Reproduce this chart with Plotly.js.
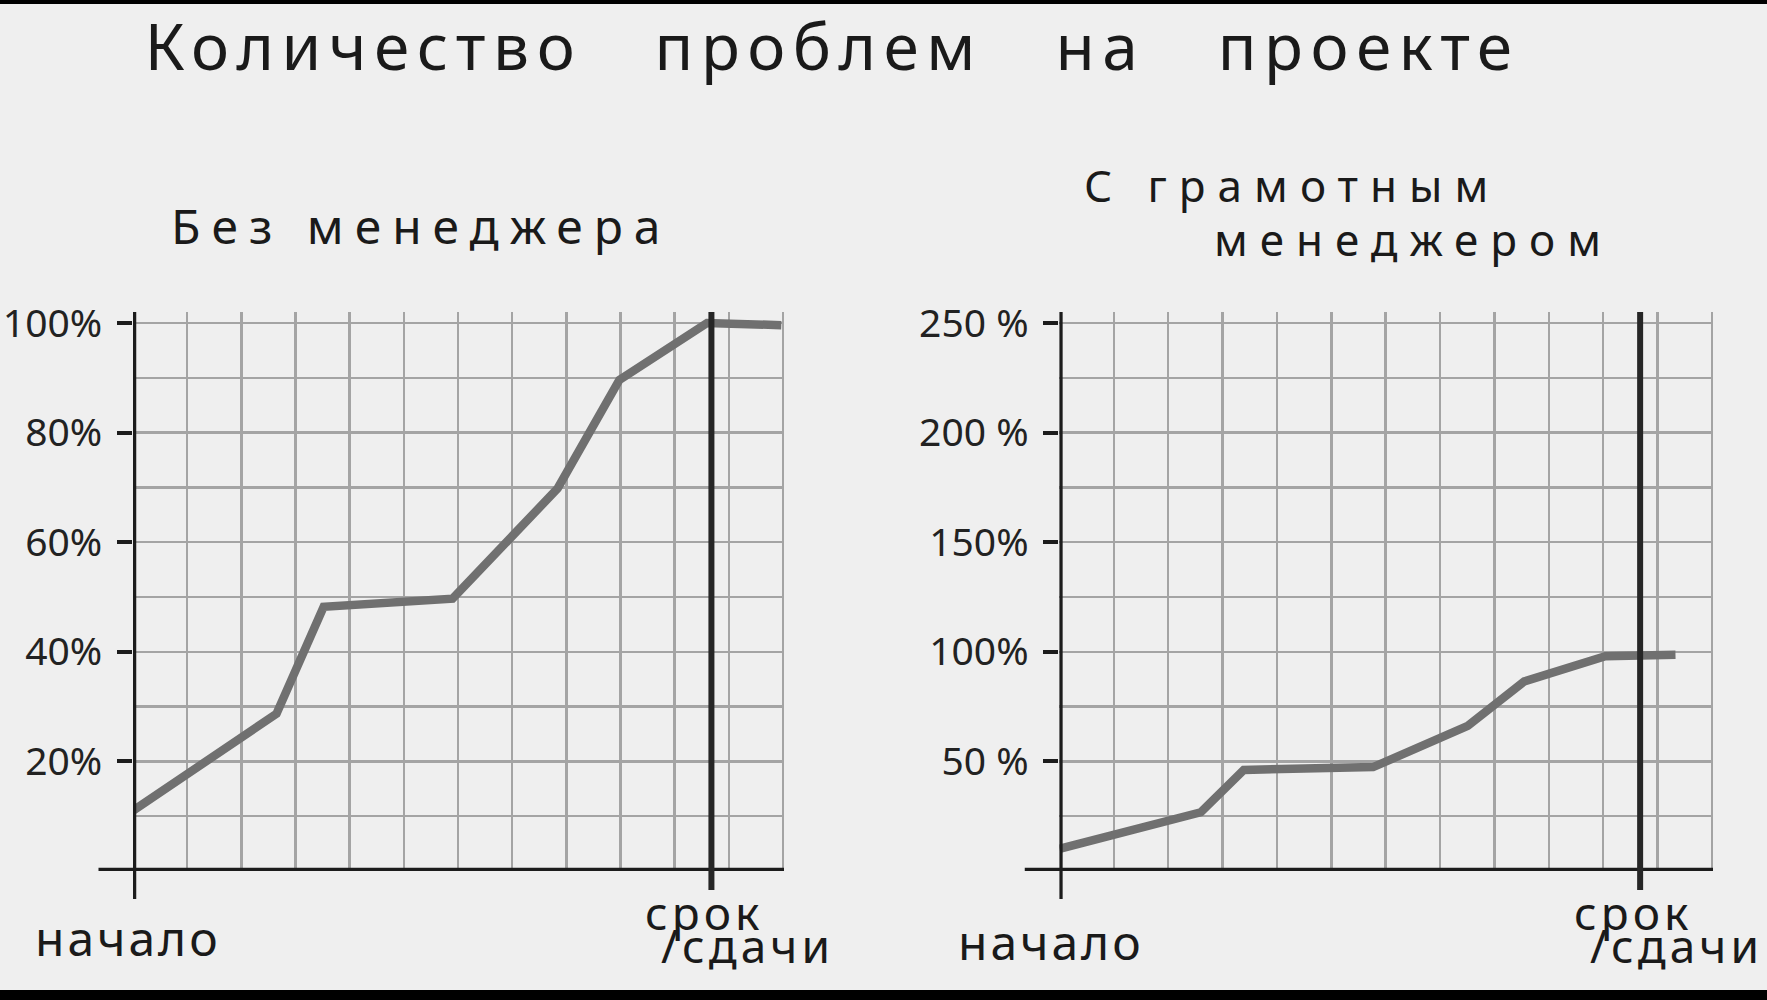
<!DOCTYPE html>
<html><head><meta charset="utf-8">
<script src="https://cdn.plot.ly/plotly-3.0.1.min.js"></script>
<style>html,body{margin:0;padding:0;background:#efefef;}</style>
</head><body><div id="chart" style="width:1767px;height:1000px;"></div>
<script>
// ---- data ----
const chartTitle = "Количество\u00a0\u00a0\u00a0проблем\u00a0\u00a0\u00a0на\u00a0\u00a0\u00a0проекте";
const panelTitles = ["Без менеджера", "С грамотным", "менеджером"];
const startLabel = "начало";
const deadlineLabel = "срок<br>/сдачи";
const deadline = [10.68];
const xLeft  = [0, 2.65, 3.52, 5.9, 7.84, 8.98, 10.6, 11.97];
const yLeft  = [11, 28.7, 48.2, 49.7, 69.8, 89.6, 100, 99.6];
const xRight = [0, 2.6, 3.39, 5.77, 7.51, 8.55, 10.04, 11.33];
const yRight = [10.1, 26.8, 46.1, 47.4, 66.2, 86.5, 98, 98.6];
const leftTicks  = [20, 40, 60, 80, 100];
const leftTickText  = ["20%", "40%", "60%", "80%", "100%"];
const rightTicks = [50, 100, 150, 200, 250];
const rightTickText = ["50 %", "100%", "150%", "200 %", "250 %"];

// ---- styles ----
const FONT = "Noto Sans";
const INK = "#1c1c1c";
const GRID = "#a4a4a4";
const LINE = "#707070";
const BG = "#efefef";

const traces = [
  {x: xLeft, y: yLeft, xaxis: "x", yaxis: "y", mode: "lines",
   line: {color: LINE, width: 8.5}, hoverinfo: "skip", showlegend: false},
  {x: xRight, y: yRight, xaxis: "x2", yaxis: "y2", mode: "lines",
   line: {color: LINE, width: 8.5}, hoverinfo: "skip", showlegend: false}
];

function xAx(domain) {
  return {domain: domain, range: [0, 12.02], tickmode: "linear", tick0: 0, dtick: 1,
    showgrid: true, gridcolor: GRID, gridwidth: 2.5, zeroline: false,
    showticklabels: false, ticks: "", showline: false, fixedrange: true};
}
function yAx(anchor, range, ticks, labels, minorStep) {
  return {anchor: anchor, domain: [0.129, 0.688], range: range,
    tickmode: "array", tickvals: ticks, ticktext: labels,
    ticks: "outside", ticklen: 15, tickwidth: 4, tickcolor: INK,
    ticklabelstandoff: 7,
    tickfont: {family: FONT, size: 39, color: "#222"},
    showgrid: true, gridcolor: GRID, gridwidth: 2.5,
    minor: {tickmode: "linear", tick0: 0, dtick: minorStep, showgrid: true,
            gridcolor: GRID, gridwidth: 2.5, ticks: ""},
    zeroline: false, showline: false, fixedrange: true};
}
function yInner(anchor, overlay, range, ticks) {
  return {anchor: anchor, overlaying: overlay, domain: [0.129, 0.688], range: range,
    tickmode: "array", tickvals: ticks, ticks: "inside", ticklen: 9, tickwidth: 4,
    tickcolor: INK, showticklabels: false, showgrid: false, zeroline: false,
    showline: false, fixedrange: true};
}

function axisShapes(xr, yr) {
  const ln = {color: INK, width: 6.5};
  return [
    {type: "line", layer: "above", xref: xr, yref: yr + " domain", x0: 0, x1: 0, y0: -0.05, y1: 1.0, line: ln},
    {type: "line", layer: "above", xref: xr + " domain", yref: yr, x0: -0.053, x1: 1.0, y0: 0, y1: 0, line: ln},
    {type: "line", layer: "above", xref: xr, yref: yr + " domain", x0: deadline[0], x1: deadline[0], y0: -0.034, y1: 1.0,
     line: {color: "#262626", width: 6}}
  ];
}

function tf(size) { return {family: FONT, size: size, color: "#1a1a1a"}; }

const annotations = [
  {text: chartTitle, xref: "paper", yref: "paper", x: 0.4706, y: 0.955, xanchor: "center", yanchor: "middle", showarrow: false, font: tf(64)},
  {text: panelTitles[0], xref: "paper", yref: "paper", x: 0.0956, y: 0.774, xanchor: "left", align: "left", yanchor: "middle", showarrow: false, font: tf(48)},
  {text: panelTitles[1], xref: "paper", yref: "paper", x: 0.6123, y: 0.815, xanchor: "left", align: "left", yanchor: "middle", showarrow: false, font: tf(44)},
  {text: panelTitles[2], xref: "paper", yref: "paper", x: 0.6859, y: 0.761, xanchor: "left", align: "left", yanchor: "middle", showarrow: false, font: tf(44)},
  {text: startLabel, xref: "x", yref: "y domain", x: 0, y: 0, xshift: -5, yshift: -66, xanchor: "center", yanchor: "middle", showarrow: false, font: tf(48)},
  {text: deadlineLabel, xref: "x", yref: "y domain", x: deadline[0], y: 0, xshift: -68, yshift: -8, xanchor: "left", align: "left", yanchor: "top", showarrow: false, font: tf(46)},
  {text: startLabel, xref: "x2", yref: "y2 domain", x: 0, y: 0, xshift: -8, yshift: -70, xanchor: "center", yanchor: "middle", showarrow: false, font: tf(48)},
  {text: deadlineLabel, xref: "x2", yref: "y2 domain", x: deadline[0], y: 0, xshift: -68, yshift: -8, xanchor: "left", align: "left", yanchor: "top", showarrow: false, font: tf(46)}
];
const spacing = [7.5, 11, 12, 12, 3, 4, 3, 4];

const layout = {
  width: 1767, height: 1000,
  margin: {l: 0, r: 0, t: 0, b: 0},
  paper_bgcolor: BG, plot_bgcolor: BG,
  showlegend: false,
  xaxis: xAx([0.07527, 0.44369]),
  yaxis: yAx("x", [0, 102], leftTicks, leftTickText, 10),
  xaxis2: xAx([0.59955, 0.96944]),
  yaxis2: yAx("x2", [0, 255], rightTicks, rightTickText, 25),
  yaxis3: yInner("x", "y", [0, 102], leftTicks),
  yaxis4: yInner("x2", "y2", [0, 255], rightTicks),
  shapes: [].concat(axisShapes("x", "y"), axisShapes("x2", "y2"), [
    {type: "rect", xref: "paper", yref: "paper", x0: 0, x1: 1, y0: 0, y1: 0.01, fillcolor: "#000", line: {width: 0}, layer: "above"},
    {type: "rect", xref: "paper", yref: "paper", x0: 0, x1: 1, y0: 0.996, y1: 1, fillcolor: "#000", line: {width: 0}, layer: "above"}
  ]),
  annotations: annotations
};

Plotly.newPlot("chart", traces, layout, {displayModeBar: false, staticPlot: true}).then(function () {
  const texts = document.querySelectorAll("#chart .annotation .annotation-text");
  texts.forEach(function (el, i) {
    if (spacing[i]) el.style.letterSpacing = spacing[i] + "px";
    const lines = el.querySelectorAll("tspan.line");
    if (lines.length === 2) {
      lines[1].setAttribute("dy", "33");
      lines[1].setAttribute("dx", "16");
    }
  });
});
</script>
</body></html>
